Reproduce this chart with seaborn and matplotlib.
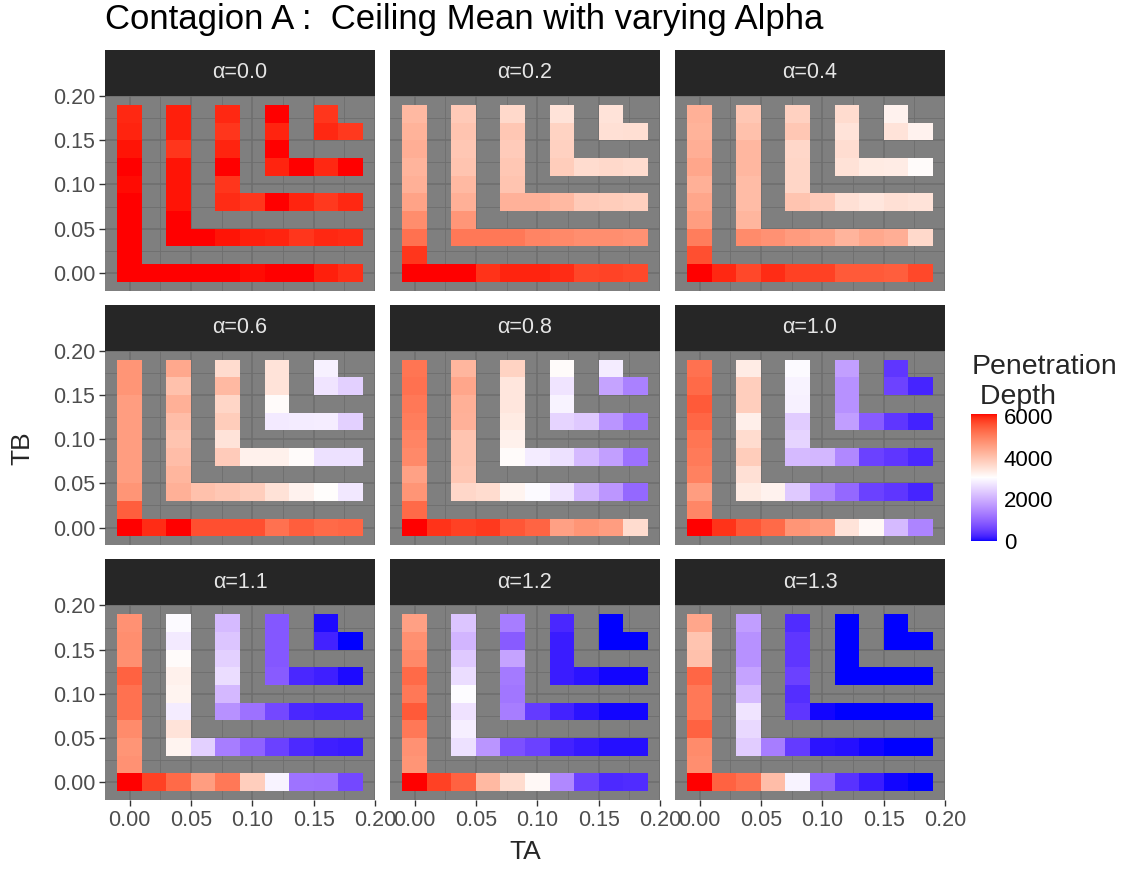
import numpy as np
import pandas as pd
import matplotlib
matplotlib.use("Agg")
import matplotlib.pyplot as plt
from matplotlib.colors import ListedColormap, Normalize
from matplotlib.cm import ScalarMappable
from matplotlib.patches import Rectangle
import seaborn as sns

# facets
alphas = [0.0, 0.2, 0.4, 0.6, 0.8, 1.0, 1.1, 1.2, 1.3]
# TA / TB grid levels (index i -> 0.02 * i)
ta_levels = [0.00, 0.02, 0.04, 0.06, 0.08, 0.10, 0.12, 0.14, 0.16, 0.18]
corners = [0, 2, 4, 6, 8]

# each L: column values top -> corner, then row values corner+1 -> right
depth_a00 = [
    [5950, 5970, 6050, 6080, 6060, 6080, 6080, 6100, 6100, 6100, 6100, 6100, 6100, 6080, 6060, 6100, 6080, 6000, 5900],
    [6000, 6000, 5850, 6050, 6050, 6050, 6100, 6100, 6080, 6050, 6000, 5980, 5850, 5950, 5920],
    [5950, 5850, 5980, 6100, 5850, 5920, 5850, 6100, 5980, 5830, 5950],
    [6100, 5980, 6100, 5980, 6100, 5950, 6100],
    [5850, 5950, 5830],
]
depth_a02 = [
    [4150, 4250, 4320, 4230, 4300, 4500, 4830, 5200, 5840, 6100, 6100, 6100, 5880, 5980, 5980, 5920, 5700, 5720, 5680],
    [3900, 4000, 3950, 4000, 4150, 4300, 4680, 5100, 5100, 5100, 4950, 4880, 4800, 4800, 4750],
    [3650, 3950, 3880, 3950, 4000, 4280, 4280, 4150, 3900, 3850, 3800],
    [3500, 3750, 3780, 3850, 3600, 3650, 3600],
    [3500, 3550, 3560],
]
depth_a04 = [
    [4300, 4250, 4320, 4450, 4300, 4450, 4580, 5050, 5600, 6100, 5950, 5680, 5930, 5760, 5750, 5500, 5500, 5450, 5680],
    [3950, 4050, 4180, 4180, 4100, 4100, 4200, 4850, 4750, 4600, 4480, 4220, 4420, 4320, 3650],
    [3780, 3950, 3680, 3700, 3700, 4000, 3880, 3550, 3450, 3550, 3480],
    [3600, 3500, 3580, 3520, 3380, 3350, 3120],
    [3250, 3480, 3250],
]
depth_a06 = [
    [4700, 4700, 4580, 4580, 4580, 4580, 4580, 4700, 5450, 6100, 5930, 6100, 5620, 5620, 5600, 5200, 5450, 5300, 5350],
    [4420, 4050, 4300, 4080, 4000, 4080, 4200, 4300, 4050, 3950, 3820, 3520, 3250, 3080, 2750],
    [3600, 4150, 3700, 3850, 3500, 3880, 3280, 3280, 3120, 2650, 2650],
    [3500, 3480, 3100, 2780, 2800, 2830, 2450],
    [2880, 2700, 2450],
]
depth_a08 = [
    [5150, 5200, 5100, 5050, 4950, 4880, 4520, 4700, 5300, 6100, 5870, 5750, 5820, 5550, 5380, 4530, 4700, 4580, 3620],
    [4200, 4450, 4300, 4280, 4000, 3980, 3950, 3680, 3600, 3220, 3000, 2700, 2120, 1680, 1050],
    [3750, 3450, 3450, 3380, 3280, 3120, 2800, 2650, 2150, 1800, 1170],
    [3120, 2700, 2900, 2500, 2350, 1650, 1170],
    [2800, 1850, 1400],
]
depth_a10 = [
    [5200, 5300, 5500, 5350, 5170, 5080, 5000, 4580, 4930, 6100, 5880, 5550, 5300, 4700, 4580, 3500, 3150, 2150, 1450],
    [3350, 3820, 3820, 3300, 3600, 3850, 3550, 3380, 3250, 2350, 1480, 1050, 550, 450, 250],
    [3000, 2900, 2880, 2400, 2500, 2150, 2120, 1500, 550, 450, 280],
    [1800, 1600, 1600, 1780, 900, 450, 230],
    [450, 580, 250],
]
depth_a11 = [
    [4750, 4800, 4780, 5400, 5200, 5200, 4850, 4700, 4750, 6100, 5750, 5300, 4580, 5120, 3820, 2900, 1200, 1180, 650],
    [3000, 2780, 3120, 3270, 3220, 2800, 3500, 3220, 2450, 1350, 1000, 550, 300, 200, 180],
    [2150, 2300, 2450, 2620, 2130, 1600, 1180, 650, 280, 220, 220],
    [850, 850, 850, 900, 280, 200, 50],
    [50, 220, 0],
]
depth_a12 = [
    [4530, 4780, 4880, 5300, 5120, 5500, 5120, 4750, 4700, 6100, 5750, 5400, 4150, 3600, 3150, 1500, 550, 300, 320],
    [2300, 2080, 2350, 2620, 3020, 2680, 2850, 2650, 1650, 750, 560, 220, 150, 80, 80],
    [1350, 900, 1850, 1300, 1250, 1350, 480, 230, 100, 40, 40],
    [280, 180, 180, 180, 100, 40, 40],
    [0, 0, 0],
]
depth_a13 = [
    [4450, 4000, 4050, 5350, 5120, 5120, 5400, 4850, 4800, 6100, 5400, 5200, 4080, 2900, 1000, 400, 180, 40, 0],
    [1780, 1600, 1600, 1850, 2150, 2700, 2550, 2400, 1350, 480, 100, 90, 40, 0, 0],
    [330, 450, 430, 550, 350, 450, 40, 0, 0, 0, 0],
    [0, 0, 0, 0, 0, 0, 0],
    [0, 0, 0],
]
panels = [depth_a00, depth_a02, depth_a04, depth_a06, depth_a08,
          depth_a10, depth_a11, depth_a12, depth_a13]

VMIN, VMAX = 0, 6100

rows = []
for alpha, panel in zip(alphas, panels):
    for k, vals in zip(corners, panel):
        cells = [(k, r) for r in range(9, k - 1, -1)] + [(c, k) for c in range(k + 1, 10)]
        for (i, j), v in zip(cells, vals):
            rows.append({"alpha": alpha, "ia": i, "ib": j,
                         "TA": ta_levels[i], "TB": ta_levels[j], "depth": v})
df = pd.DataFrame(rows)


# blue-white-red gradient interpolated in Lab (like scale_fill_gradient2)
def srgb_to_lab(rgb):
    c = np.asarray(rgb, float)
    lin = np.where(c <= 0.04045, c / 12.92, ((c + 0.055) / 1.055) ** 2.4)
    M = np.array([[0.4124, 0.3576, 0.1805], [0.2126, 0.7152, 0.0722], [0.0193, 0.1192, 0.9505]])
    xyz = M @ lin / np.array([0.95047, 1.0, 1.08883])
    d = 6 / 29
    f = np.where(xyz > d ** 3, np.cbrt(xyz), xyz / (3 * d * d) + 4 / 29)
    return np.array([116 * f[1] - 16, 500 * (f[0] - f[1]), 200 * (f[1] - f[2])])


def lab_to_srgb(lab):
    L, a, b = lab
    fy = (L + 16) / 116
    f = np.array([fy + a / 500, fy, fy - b / 200])
    d = 6 / 29
    xyz = np.where(f > d, f ** 3, 3 * d * d * (f - 4 / 29)) * np.array([0.95047, 1.0, 1.08883])
    Minv = np.linalg.inv(np.array([[0.4124, 0.3576, 0.1805], [0.2126, 0.7152, 0.0722], [0.0193, 0.1192, 0.9505]]))
    lin = np.clip(Minv @ xyz, 0, 1)
    return np.where(lin <= 0.0031308, 12.92 * lin, 1.055 * lin ** (1 / 2.4) - 0.055)


lab_lo = srgb_to_lab([0, 0, 1])
lab_mid = srgb_to_lab([1, 1, 1])
lab_hi = srgb_to_lab([1, 0, 0])
cols = []
for t in np.linspace(0, 1, 256):
    if t < 0.5:
        lab = lab_lo + (lab_mid - lab_lo) * (t / 0.5)
    else:
        lab = lab_mid + (lab_hi - lab_mid) * ((t - 0.5) / 0.5)
    cols.append(np.clip(lab_to_srgb(lab), 0, 1))
cmap = ListedColormap(cols)

sns.set_style("dark")
plt.rcParams["font.family"] = ["Liberation Sans", "DejaVu Sans"]


def pos(v):
    return v / 0.02 + 0.5


def draw_tiles(data, **kws):
    ax = plt.gca()
    grid = data.pivot(index="ib", columns="ia", values="depth").reindex(index=range(10), columns=range(10))
    sns.heatmap(grid, ax=ax, cmap=cmap, vmin=VMIN, vmax=VMAX, cbar=False,
                linewidths=0, xticklabels=False, yticklabels=False)


g = sns.FacetGrid(df, col="alpha", col_wrap=3, sharex=False, sharey=False,
                  height=2.5, aspect=1.4, despine=False)
g.map_dataframe(draw_tiles)
g.set_titles("")
fig = g.figure
fig.set_size_inches(11.23, 8.73)
fig.subplots_adjust(left=105 / 1123, right=945 / 1123, top=1 - 96 / 873,
                    bottom=1 - 800 / 873, wspace=15 / 270, hspace=60 / 194)

major = [0.0, 0.05, 0.10, 0.15, 0.20]
minor = [0.025, 0.075, 0.125, 0.175]
strip_h = 46 / 194
for n, ax in enumerate(g.axes.flat):
    ax.set_facecolor("#7F7F7F")
    ax.set_xlim(-0.5, 10.5)
    ax.set_ylim(-0.5, 10.5)
    ax.set_xlabel("")
    ax.set_ylabel("")
    ax.set_xticks([pos(v) for v in major])
    ax.set_yticks([pos(v) for v in major])
    ax.set_xticks([pos(v) for v in minor], minor=True)
    ax.set_yticks([pos(v) for v in minor], minor=True)
    ax.set_xticklabels([f"{v:.2f}" for v in major])
    ax.set_yticklabels([f"{v:.2f}" for v in major])
    ax.set_axisbelow(True)
    ax.grid(True, which="major", color="#6E6E6E", linewidth=1.1)
    ax.grid(True, which="minor", color="#6E6E6E", linewidth=0.6)
    for s in ax.spines.values():
        s.set_visible(False)
    ax.tick_params(which="minor", length=0)
    ax.tick_params(which="major", length=4, width=1, color="#333333",
                   labelsize=15.5, labelcolor="#4D4D4D", pad=3,
                   bottom=(n >= 6), labelbottom=(n >= 6),
                   left=(n % 3 == 0), labelleft=(n % 3 == 0))
    ax.add_patch(Rectangle((0, 1), 1, strip_h, transform=ax.transAxes,
                           facecolor="#262626", edgecolor="none", clip_on=False))
    ax.text(0.5, 1 + strip_h / 2, f"α={alphas[n]:.1f}", transform=ax.transAxes,
            ha="center", va="center", fontsize=15.5, color="#E5E5E5")

fig.text(105 / 1123, 1 - 29.5 / 873, "Contagion A :  Ceiling Mean with varying Alpha",
         ha="left", va="baseline", fontsize=25, color="black")
fig.text(525 / 1123, 1 - 852 / 873, "TA", ha="center", va="center", fontsize=19)
fig.text(22 / 1123, 1 - 448 / 873, "TB", ha="center", va="center", fontsize=19, rotation=90)

cax = fig.add_axes([971 / 1123, 1 - 541 / 873, 26 / 1123, 127 / 873])
sm = ScalarMappable(norm=Normalize(VMIN, VMAX), cmap=cmap)
cb = fig.colorbar(sm, cax=cax, ticks=[0, 2000, 4000, 6000])
cb.outline.set_visible(False)
cax.yaxis.set_ticks_position("both")
cax.tick_params(color="white", length=5, width=1, direction="in",
                labelsize=16, labelcolor="black", pad=5, labelright=True, labelleft=False)
fig.text(972 / 1123, 1 - 354 / 873, "Penetration\n Depth", ha="left", va="top",
         fontsize=20.5, linespacing=1.2)

fig.savefig("out.png", dpi=100)
